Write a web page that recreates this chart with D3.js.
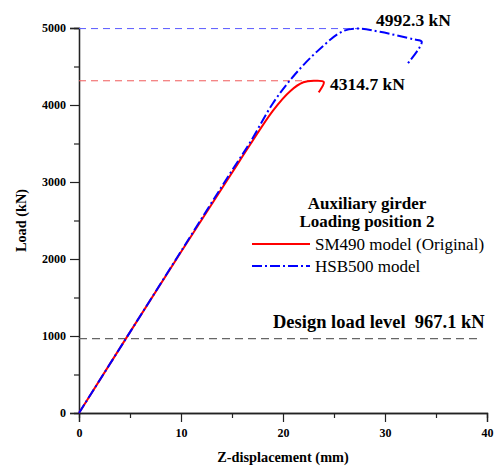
<!DOCTYPE html>
<html>
<head>
<meta charset="utf-8">
<script src="https://cdn.jsdelivr.net/npm/d3@7"></script>
<style>
  body { margin: 0; background: #fff; }
  svg text { font-family: "Liberation Serif", "Times New Roman", serif; white-space: pre; }
</style>
</head>
<body>
<svg id="chart"></svg>
<script>
// data (x: mm, y: kN)
const sm490X = [0, 5, 10, 15, 16.8, 19, 20.7, 22, 23, 24.0, 23.5];
const sm490Y = [0, 1050, 2090, 3120, 3490, 3925, 4180, 4295, 4314.7, 4300, 4165];
const hsbX = [0, 5, 10, 15, 16.8, 19, 21, 23.3, 25.9, 27.5, 29.5, 32.8, 33.6, 32.1];
const hsbY = [0, 1050, 2100, 3150, 3520, 4020, 4370, 4690, 4960, 4992.3, 4950, 4853, 4822, 4519];
const xTicks = [0, 10, 20, 30, 40];
const xMinor = [5, 15, 25, 35];
const yTicks = [0, 1000, 2000, 3000, 4000, 5000];
const yMinor = [500, 1500, 2500, 3500, 4500];
const designLoad = 967.1;
const peakSM = { x: 23, y: 4314.7 };
const peakHSB = { x: 27.5, y: 4992.3 };

const serif = '"Liberation Serif", "Times New Roman", serif';

const config = {
  w: 494,
  h: 470,
  left: 79,
  right: 487,
  top: 28,
  bottom: 413,
};

const svg = d3.select('#chart')
  .attr('width', config.w)
  .attr('height', config.h);

const xScale = d3.scaleLinear().domain([0, 40]).range([config.left, config.right]);
const yScale = d3.scaleLinear().domain([0, 5000]).range([config.bottom, config.top]);

// axes
const xAxis = d3.axisBottom(xScale).tickValues(xTicks).tickSize(9).tickPadding(6).tickFormat(d3.format('d'));
svg.append('g')
  .attr('transform', `translate(0,${config.bottom})`)
  .call(xAxis);
const xMin = d3.axisBottom(xScale).tickValues(xMinor).tickSize(5).tickFormat('');
svg.append('g').attr('transform', `translate(0,${config.bottom})`).call(xMin);

const yAxis = d3.axisLeft(yScale).tickValues(yTicks).tickSize(9).tickPadding(4).tickFormat(d3.format('d'));
svg.append('g')
  .attr('transform', `translate(${config.left},0)`)
  .call(yAxis);
const yMin = d3.axisLeft(yScale).tickValues(yMinor).tickSize(5).tickFormat('');
svg.append('g').attr('transform', `translate(${config.left},0)`).call(yMin);

svg.selectAll('.domain').attr('stroke', '#222').attr('stroke-width', 1.3);
svg.selectAll('.tick line').attr('stroke', '#222').attr('stroke-width', 1.2);
svg.selectAll('.tick text')
  .attr('font-family', serif)
  .attr('font-size', 12)
  .attr('font-weight', 'bold')
  .attr('fill', '#000');

// reference lines
svg.append('line')
  .attr('x1', xScale(0)).attr('x2', xScale(peakHSB.x))
  .attr('y1', yScale(peakHSB.y)).attr('y2', yScale(peakHSB.y))
  .attr('stroke', '#5a5aff').attr('stroke-width', 1)
  .attr('stroke-dasharray', '7,5');
svg.append('line')
  .attr('x1', xScale(0)).attr('x2', xScale(peakSM.x))
  .attr('y1', yScale(peakSM.y)).attr('y2', yScale(peakSM.y))
  .attr('stroke', '#f05a5a').attr('stroke-width', 1)
  .attr('stroke-dasharray', '7,5');
svg.append('line')
  .attr('x1', xScale(0)).attr('x2', xScale(39.5))
  .attr('y1', yScale(designLoad)).attr('y2', yScale(designLoad))
  .attr('stroke', '#666').attr('stroke-width', 1.3)
  .attr('stroke-dasharray', '8,5');

// curves
const line = d3.line()
  .x((d) => xScale(d[0]))
  .y((d) => yScale(d[1]))
  .curve(d3.curveCatmullRom.alpha(0.5));

svg.append('path')
  .datum(sm490X.map((x, i) => [x, sm490Y[i]]))
  .attr('d', line)
  .attr('fill', 'none')
  .attr('stroke', '#ff0000')
  .attr('stroke-width', 2);

svg.append('path')
  .datum(hsbX.map((x, i) => [x, hsbY[i]]))
  .attr('d', line)
  .attr('fill', 'none')
  .attr('stroke', '#0000ff')
  .attr('stroke-width', 2)
  .attr('stroke-dasharray', '10,3,2,3');

// annotations
const addText = (x, y, size, weight, str, anchor) => svg.append('text')
  .attr('x', x).attr('y', y)
  .attr('text-anchor', anchor || 'start')
  .attr('font-family', serif)
  .attr('font-size', size)
  .attr('font-weight', weight)
  .attr('fill', '#000')
  .text(str);

addText(376, 26, 17.5, 'bold', '4992.3 kN');
addText(330, 90, 17.5, 'bold', '4314.7 kN');
addText(273, 328, 18.5, 'bold', 'Design load level  967.1 kN');

// legend
addText(367, 209, 17, 'bold', 'Auxiliary girder', 'middle');
addText(367, 227, 17, 'bold', 'Loading position 2', 'middle');

const legendItems = [
  { label: 'SM490 model (Original)', color: '#ff0000', dash: null },
  { label: 'HSB500 model', color: '#0000ff', dash: '10,3,2,3' },
];
legendItems.forEach((d, i) => {
  const y = 244 + i * 22;
  svg.append('line')
    .attr('x1', 252).attr('x2', 310)
    .attr('y1', y).attr('y2', y)
    .attr('stroke', d.color).attr('stroke-width', 2)
    .attr('stroke-dasharray', d.dash);
  addText(315, y + 6, 17, 'normal', d.label);
});

// axis titles
addText(283, 462, 14.3, 'bold', 'Z-displacement (mm)', 'middle');
svg.append('text')
  .attr('transform', `translate(26,${(config.top + config.bottom) / 2}) rotate(-90)`)
  .attr('text-anchor', 'middle')
  .attr('font-family', serif)
  .attr('font-size', 14.3)
  .attr('font-weight', 'bold')
  .text('Load (kN)');
</script>
</body>
</html>
